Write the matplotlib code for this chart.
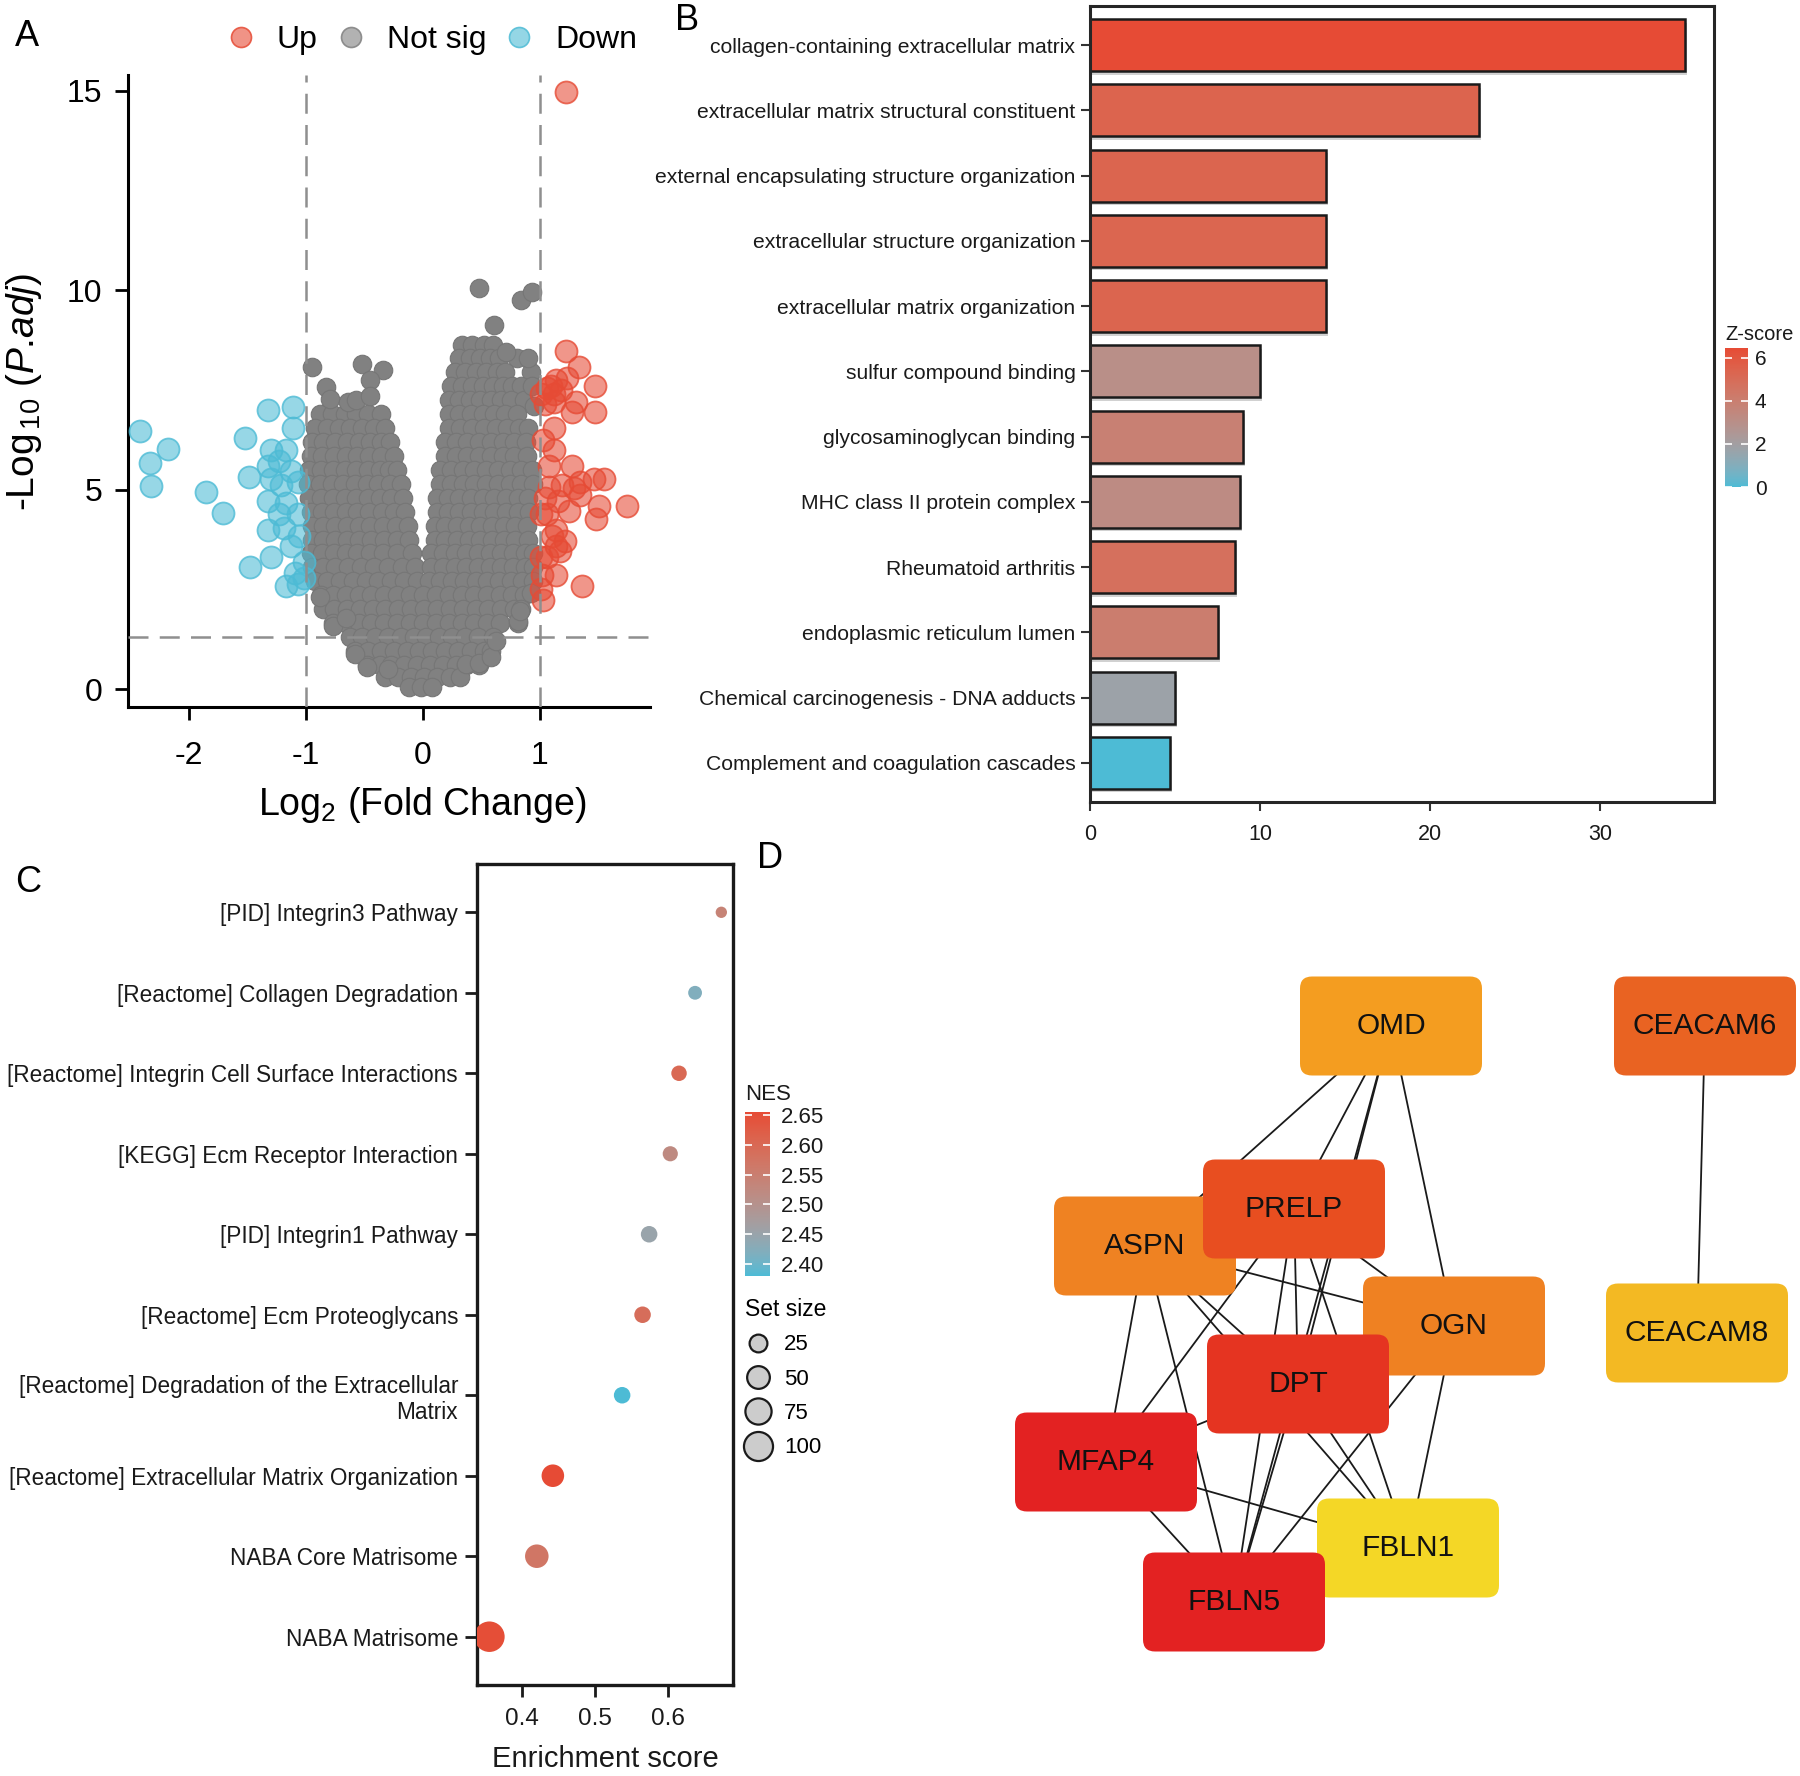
import numpy as np
import matplotlib
matplotlib.use("Agg")
import matplotlib.pyplot as plt
from matplotlib import font_manager as fm
from matplotlib.colors import LinearSegmentedColormap, Normalize, to_rgb, to_rgba
from matplotlib.cm import ScalarMappable
from matplotlib.patches import FancyBboxPatch
from matplotlib.lines import Line2D
import matplotlib.patheffects as pe

# ------------------------------------------------------------------ data
# Panel A : volcano (log2FC, -log10 padj)
up_x = [1.22, 1.22, 1.33, 1.47, 1.14, 1.06, 1.12, 1.23, 1.47, 1.27, 1.31, 1.12, 1.04, 1.01,
        1.12, 1.12, 1.08, 1.27, 1.46, 1.55, 1.34, 1.19, 1.08, 1.04, 1.15, 1.34, 1.50, 1.74,
        1.25, 1.48, 1.06, 1.01, 1.14, 1.21, 1.14, 1.17, 1.06, 1.01, 1.14, 1.02, 1.36, 1.01,
        1.03, 1.09, 1.18, 1.29, 1.10, 1.03]
up_y = [14.97, 8.48, 8.08, 7.61, 7.74, 7.54, 7.41, 7.81, 6.94, 6.94, 7.21, 7.21, 7.14, 7.41,
        6.54, 6.00, 5.60, 5.60, 5.26, 5.26, 5.19, 5.13, 5.06, 4.79, 4.72, 4.86, 4.59, 4.59,
        4.46, 4.26, 4.39, 4.39, 3.99, 3.72, 3.58, 3.45, 3.32, 3.32, 2.85, 2.85, 2.58, 2.51,
        2.24, 7.60, 7.50, 5.05, 3.85, 6.25]
down_x = [-2.42, -2.18, -2.33, -2.32, -1.85, -1.71, -1.32, -1.11, -1.11, -1.52, -1.30, -1.17,
          -1.23, -1.32, -1.13, -1.49, -1.30, -1.21, -1.07, -1.32, -1.17, -1.23, -1.07, -1.32,
          -1.19, -1.06, -1.13, -1.30, -1.48, -1.02, -1.09, -1.17, -1.07, -1.02]
down_y = [6.47, 6.03, 5.66, 5.09, 4.93, 4.42, 7.01, 7.07, 6.54, 6.30, 6.00, 6.00,
          5.73, 5.60, 5.46, 5.33, 5.26, 5.13, 5.19, 4.72, 4.66, 4.39, 4.39, 3.99,
          4.05, 3.85, 3.58, 3.32, 3.07, 3.18, 2.91, 2.58, 2.64, 2.78]
# not-significant genes, read row by row off the dense grey cloud
gray_rows = [
    (8.62, [0.33, 0.42, 0.52, 0.60]),
    (8.30, [0.31, 0.40, 0.49, 0.57, 0.65, 0.80]),
    (7.95, [0.27, 0.36, 0.45, 0.54, 0.63, 0.70, 0.92]),
    (7.60, [0.24, 0.33, 0.42, 0.51, 0.60, 0.68, 0.76, 0.84]),
    (7.25, [0.22, 0.31, 0.40, 0.49, 0.58, 0.67, 0.75, 0.86]),
    (6.90, [-0.88, -0.78, -0.67, -0.57, -0.47, -0.36, 0.22, 0.31, 0.41, 0.51, 0.61, 0.70, 0.80]),
    (6.55, [-0.92, -0.82, -0.72, -0.62, -0.52, -0.42, -0.32, 0.22, 0.32, 0.42, 0.52, 0.62,
            0.72, 0.82, 0.90]),
    (6.20, [-0.95, -0.85, -0.75, -0.65, -0.55, -0.45, -0.36, -0.28, 0.19, 0.28, 0.38, 0.48,
            0.58, 0.68, 0.78, 0.88]),
    (5.85, [-0.96, -0.86, -0.76, -0.66, -0.56, -0.46, -0.36, -0.25, 0.19, 0.28, 0.38, 0.48,
            0.58, 0.68, 0.78, 0.89]),
    (5.50, [-0.97, -0.87, -0.77, -0.67, -0.57, -0.47, -0.37, -0.29, -0.22, 0.15, 0.24, 0.34,
            0.44, 0.54, 0.64, 0.74, 0.84, 0.93]),
    (5.15, [-0.98, -0.88, -0.78, -0.68, -0.58, -0.48, -0.38, -0.28, -0.19, 0.15, 0.24, 0.34,
            0.44, 0.54, 0.64, 0.74, 0.84, 0.94]),
    (4.80, [-0.97, -0.87, -0.77, -0.67, -0.57, -0.47, -0.37, -0.27, -0.17, 0.12, 0.21, 0.31,
            0.41, 0.51, 0.61, 0.71, 0.81, 0.90]),
    (4.45, [-0.96, -0.86, -0.76, -0.66, -0.56, -0.46, -0.35, -0.25, -0.15, 0.12, 0.21, 0.31,
            0.41, 0.51, 0.61, 0.71, 0.81, 0.91]),
    (4.10, [-0.95, -0.85, -0.75, -0.65, -0.55, -0.45, -0.34, -0.23, -0.13, 0.10, 0.19, 0.29,
            0.39, 0.49, 0.59, 0.69, 0.79, 0.89]),
    (3.75, [-0.95, -0.85, -0.75, -0.65, -0.55, -0.44, -0.33, -0.22, -0.12, 0.10, 0.19, 0.29,
            0.39, 0.49, 0.59, 0.69, 0.79, 0.90]),
    (3.40, [-0.96, -0.86, -0.76, -0.66, -0.56, -0.45, -0.34, -0.22, -0.09, 0.07, 0.17, 0.27,
            0.37, 0.47, 0.57, 0.67, 0.77, 0.87, 0.94]),
    (3.05, [-0.95, -0.85, -0.75, -0.64, -0.53, -0.42, -0.30, -0.18, -0.07, 0.07, 0.17, 0.27,
            0.37, 0.47, 0.57, 0.67, 0.77, 0.87, 0.94]),
    (2.70, [-0.92, -0.82, -0.71, -0.60, -0.49, -0.38, -0.27, -0.16, -0.05, 0.05, 0.15, 0.25,
            0.35, 0.45, 0.55, 0.65, 0.75, 0.85, 0.94]),
    (2.35, [-0.87, -0.77, -0.66, -0.55, -0.44, -0.33, -0.22, -0.11, 0.00, 0.11, 0.22, 0.33,
            0.44, 0.55, 0.66, 0.76, 0.86]),
    (2.00, [-0.85, -0.76, -0.65, -0.54, -0.43, -0.32, -0.21, -0.10, 0.01, 0.12, 0.23, 0.34,
            0.45, 0.56, 0.67, 0.78, 0.84]),
    (1.65, [-0.77, -0.66, -0.55, -0.44, -0.33, -0.22, -0.11, 0.00, 0.11, 0.22, 0.33, 0.44,
            0.55, 0.66, 0.81]),
    (1.30, [-0.62, -0.52, -0.41, -0.30, -0.19, -0.08, 0.03, 0.14, 0.25, 0.36, 0.47, 0.60]),
    (0.95, [-0.58, -0.47, -0.36, -0.25, -0.14, -0.03, 0.08, 0.19, 0.30, 0.41, 0.52, 0.58]),
    (0.60, [-0.48, -0.37, -0.27, -0.16, -0.05, 0.06, 0.17, 0.28, 0.37, 0.48]),
    (0.30, [-0.32, -0.21, -0.10, 0.01, 0.12, 0.23, 0.32]),
    (0.05, [-0.12, -0.02, 0.08]),
]
gray_extra_x = [0.48, 0.84, 0.93, 0.61, -0.95, -0.52, -0.34, -0.45, -0.83, -0.79, -0.64, -0.57,
                -0.45, 0.90, 0.71, 0.93, 0.95, -0.77, -0.66, -0.58, -0.48, 0.37, 0.48, 0.58,
                0.81, 0.83, -0.88, 0.92, -0.30, 0.62]
gray_extra_y = [10.05, 9.76, 9.96, 9.13, 8.08, 8.15, 8.00, 7.75, 7.57, 7.27, 7.20, 7.25,
                7.34, 8.30, 8.45, 7.60, 7.10, 1.57, 1.77, 0.87, 0.56, 0.63, 0.65, 0.80,
                1.70, 1.97, 2.30, 2.40, 0.50, 1.20]
fc_cut = 1.0
padj_cut = 1.301  # -log10(0.05)
volcano_groups = ["Up", "Not sig", "Down"]

# Panel B : enrichment bars
b_terms = ["collagen-containing extracellular matrix",
           "extracellular matrix structural constituent",
           "external encapsulating structure organization",
           "extracellular structure organization",
           "extracellular matrix organization",
           "sulfur compound binding",
           "glycosaminoglycan binding",
           "MHC class II protein complex",
           "Rheumatoid arthritis",
           "endoplasmic reticulum lumen",
           "Chemical carcinogenesis - DNA adducts",
           "Complement and coagulation cascades"]
b_values = [35.0, 22.9, 13.9, 13.9, 13.9, 10.0, 9.0, 8.8, 8.5, 7.5, 5.0, 4.7]
b_zscore = [6.45, 5.4, 5.35, 5.3, 5.35, 3.0, 3.9, 3.25, 4.8, 4.1, 1.75, 0.0]
b_xticks = [0, 10, 20, 30]
b_cticks = [0, 2, 4, 6]

# Panel C : GSEA dot plot
c_terms = ["[PID] Integrin3 Pathway",
           "[Reactome] Collagen Degradation",
           "[Reactome] Integrin Cell Surface Interactions",
           "[KEGG] Ecm Receptor Interaction",
           "[PID] Integrin1 Pathway",
           "[Reactome] Ecm Proteoglycans",
           "[Reactome] Degradation of the Extracellular\nMatrix",
           "[Reactome] Extracellular Matrix Organization",
           "NABA Core Matrisome",
           "NABA Matrisome"]
c_es = [0.673, 0.637, 0.615, 0.603, 0.574, 0.565, 0.537, 0.442, 0.420, 0.355]
c_nes = [2.54, 2.42, 2.60, 2.52, 2.45, 2.59, 2.38, 2.655, 2.57, 2.65]
c_setsize = [12, 17, 22, 21, 26, 26, 26, 59, 66, 130]
c_xticks = [0.4, 0.5, 0.6]
c_cticks = [2.40, 2.45, 2.50, 2.55, 2.60, 2.65]
c_size_breaks = [25, 50, 75, 100]

# Panel D : PPI network (layout coordinates)
node_names = ["OMD", "CEACAM6", "ASPN", "PRELP", "OGN", "CEACAM8", "DPT", "MFAP4", "FBLN1", "FBLN5"]
node_x = [441, 755, 195, 344, 504, 747, 348, 156, 458, 284]
node_y = [126, 126, 346, 309, 426, 433, 484, 562, 648, 702]
node_colors = ["#F49D20", "#E96322", "#EF8222", "#E84E20", "#EF8122", "#F3B923",
               "#E53421", "#E32222", "#F4D726", "#E32222"]
edges = [("OMD", "ASPN"), ("OMD", "PRELP"), ("OMD", "DPT"), ("OMD", "OGN"), ("OMD", "FBLN5"),
         ("CEACAM6", "CEACAM8"), ("ASPN", "MFAP4"), ("ASPN", "FBLN5"), ("ASPN", "DPT"),
         ("ASPN", "FBLN1"), ("ASPN", "OGN"), ("ASPN", "PRELP"), ("PRELP", "MFAP4"),
         ("PRELP", "FBLN5"), ("PRELP", "DPT"), ("PRELP", "FBLN1"), ("PRELP", "OGN"),
         ("OGN", "FBLN1"), ("OGN", "FBLN5"), ("OGN", "DPT"), ("MFAP4", "DPT"),
         ("MFAP4", "FBLN1"), ("MFAP4", "FBLN5"), ("DPT", "FBLN1"), ("DPT", "FBLN5"),
         ("FBLN1", "FBLN5")]

# ------------------------------------------------------------------ style
W, H, DPI = 1800, 1776, 100
RED, BLUE, GREY = "#E64B35", "#4DBBD5", "#808080"

avail = {f.name for f in fm.fontManager.ttflist}
BASE = "Liberation Sans" if "Liberation Sans" in avail else "DejaVu Sans"
NARROW = "Liberation Sans Narrow" if "Liberation Sans Narrow" in avail else None

plt.rcParams["font.family"] = [BASE, "DejaVu Sans"]
plt.rcParams["mathtext.fontset"] = "custom"
plt.rcParams["mathtext.rm"] = BASE
plt.rcParams["mathtext.it"] = BASE + ":italic"
plt.rcParams["axes.unicode_minus"] = False

if NARROW:
    FAM_N = [NARROW, BASE]
    B_LAB, B_TICK, C_LAB, C_TICK, C_XLAB = 18, 17, 20, 20, 23
else:
    FAM_N = [BASE]
    B_LAB, B_TICK, C_LAB, C_TICK, C_XLAB = 15.2, 15.5, 16.3, 17.5, 21


def px2pt(p):
    return p * 72.0 / DPI


def rect(l, t, r, b):
    return [l / W, 1 - b / H, (r - l) / W, (b - t) / H]


def _to_lab(c):
    rgb = np.array(to_rgb(c))
    lin = np.where(rgb <= 0.04045, rgb / 12.92, ((rgb + 0.055) / 1.055) ** 2.4)
    M = np.array([[0.4124, 0.3576, 0.1805], [0.2126, 0.7152, 0.0722], [0.0193, 0.1192, 0.9505]])
    xyz = M @ lin / np.array([0.95047, 1.0, 1.08883])
    f = np.where(xyz > 0.008856, np.cbrt(xyz), 7.787 * xyz + 16 / 116)
    return np.array([116 * f[1] - 16, 500 * (f[0] - f[1]), 200 * (f[1] - f[2])])


def _from_lab(lab):
    L, a, b = lab
    fy = (L + 16) / 116
    f = np.array([fy + a / 500, fy, fy - b / 200])
    xyz = np.where(f ** 3 > 0.008856, f ** 3, (f - 16 / 116) / 7.787) * np.array([0.95047, 1.0, 1.08883])
    Mi = np.array([[3.2406, -1.5372, -0.4986], [-0.9689, 1.8758, 0.0415], [0.0557, -0.2040, 1.0570]])
    lin = np.clip(Mi @ xyz, 0, 1)
    rgb = np.where(lin <= 0.0031308, 12.92 * lin, 1.055 * lin ** (1 / 2.4) - 0.055)
    return np.clip(rgb, 0, 1)


def lab_cmap(lo, hi, n=256):
    a, b = _to_lab(lo), _to_lab(hi)
    return LinearSegmentedColormap.from_list("lab", [_from_lab(a + (b - a) * t) for t in np.linspace(0, 1, n)])


CMAP = lab_cmap(BLUE, RED)

fig = plt.figure(figsize=(W / DPI, H / DPI), dpi=DPI)

# ------------------------------------------------------------------ panel A
axA = fig.add_axes(rect(128, 75, 650, 707))
gx = [x for y, xs in gray_rows for x in xs] + gray_extra_x
gy = [y for y, xs in gray_rows for x in xs] + gray_extra_y
axA.scatter(gx, gy, s=px2pt(18.5) ** 2, facecolor="#818181", edgecolor="#767676", linewidth=0.8, zorder=2)
axA.scatter(down_x, down_y, s=px2pt(22) ** 2, facecolor=to_rgba(BLUE, 0.58),
            edgecolor=to_rgba(BLUE, 0.8), linewidth=1.3, zorder=3)
axA.scatter(up_x, up_y, s=px2pt(22) ** 2, facecolor=to_rgba(RED, 0.58),
            edgecolor=to_rgba(RED, 0.8), linewidth=1.3, zorder=3)
dash = dict(color="#8f8f8f", lw=1.8, dashes=(8, 4.5), zorder=4)
axA.axvline(-fc_cut, **dash)
axA.axvline(fc_cut, **dash)
axA.axhline(padj_cut, **dash)
axA.set_xlim(-2.52, 1.94)
axA.set_ylim(-0.45, 15.4)
axA.set_xticks([-2, -1, 0, 1])
axA.set_yticks([0, 5, 10, 15])
for s in ("top", "right"):
    axA.spines[s].set_visible(False)
for s in ("left", "bottom"):
    axA.spines[s].set_linewidth(2.2)
axA.tick_params(axis="both", labelsize=23, length=px2pt(13), width=2.0, colors="black")
axA.tick_params(axis="x", pad=15)
axA.tick_params(axis="y", pad=9)
axA.set_xlabel(r"Log$_2$ (Fold Change)", fontsize=27, va="center")
axA.xaxis.set_label_coords((422 - 128) / 522, (707 - 805) / 632)
axA.set_ylabel(r"-Log$_{\,10}$ ($\mathit{P}$.$\mathit{adj}$)", fontsize=28, va="center")
axA.yaxis.set_label_coords((24 - 128) / 522, (707 - 392) / 632)
leg_handles = [Line2D([], [], ls="", marker="o", ms=px2pt(20), mfc=to_rgba(c, 0.6),
                      mec=to_rgba(c, 0.85), mew=1.2) for c in (RED, GREY, BLUE)]
fig.legend(leg_handles, volcano_groups, loc="center left", bbox_to_anchor=(228 / W, 1 - 40 / H),
           ncol=3, frameon=False, fontsize=23, handlelength=0.8, handletextpad=0.73,
           columnspacing=0.63, borderpad=0, borderaxespad=0)

# ------------------------------------------------------------------ panel B
axB = fig.add_axes(rect(1090, 6, 1714, 802))
normB = Normalize(min(b_zscore), max(b_zscore))
ypos = np.arange(len(b_terms))
bars = axB.barh(ypos, b_values, height=0.8, color=CMAP(normB(np.array(b_zscore))),
                edgecolor="#1a1a1a", linewidth=1.8, zorder=2)
for p in bars:
    p.set_path_effects([pe.SimplePatchShadow(offset=(1.5, -2.5), shadow_rgbFace="#9a9a9a", alpha=0.45),
                        pe.Normal()])
axB.set_ylim(len(b_terms) - 0.4, -0.6)
axB.set_xlim(0, 36.7)
axB.set_yticks(ypos)
axB.set_yticklabels(b_terms)
axB.set_xticks(b_xticks)
for s in axB.spines.values():
    s.set_linewidth(2.2)
    s.set_color("#262626")
axB.tick_params(axis="y", length=px2pt(9), width=1.5, color="#333333", pad=4, labelcolor="#1a1a1a")
axB.tick_params(axis="x", length=px2pt(9), width=1.5, color="#333333", pad=9, labelcolor="#1a1a1a")
for t in axB.get_yticklabels():
    t.set_fontfamily(FAM_N)
    t.set_fontsize(B_LAB)
for t in axB.get_xticklabels():
    t.set_fontfamily(FAM_N)
    t.set_fontsize(B_TICK)

caxB = fig.add_axes(rect(1725, 348, 1748, 487))
cbB = fig.colorbar(ScalarMappable(norm=normB, cmap=CMAP), cax=caxB, ticks=b_cticks)
cbB.outline.set_visible(False)
caxB.tick_params(direction="in", length=5, width=1.2, color="white", left=True, right=True,
                 labelsize=15, pad=5, labelcolor="#1a1a1a")
caxB.set_title("Z-score", loc="left", fontsize=14.5, pad=6, color="#1a1a1a")

# ------------------------------------------------------------------ panel C
axC = fig.add_axes(rect(477, 864, 733, 1685))
normC = Normalize(min(c_nes), max(c_nes))
SIZE_LO, SIZE_HI, D_LO, D_SPAN = 10, 130, 8.5, 22


def size_px(v):
    return D_LO + D_SPAN * np.sqrt(max(v - SIZE_LO, 0) / (SIZE_HI - SIZE_LO))


yC = np.arange(len(c_terms))
axC.scatter(c_es, yC, s=[px2pt(size_px(v)) ** 2 for v in c_setsize], c=c_nes, cmap=CMAP,
            norm=normC, edgecolors="none", zorder=3)
axC.set_ylim(len(c_terms) - 0.4, -0.6)
axC.set_xlim(0.338, 0.689)
axC.set_yticks(yC)
axC.set_yticklabels(c_terms)
axC.set_xticks(c_xticks)
axC.set_xticklabels([f"{v:.1f}" for v in c_xticks])
for s in axC.spines.values():
    s.set_linewidth(2.4)
    s.set_color("#1a1a1a")
axC.tick_params(axis="y", length=px2pt(12), width=2.0, pad=5, colors="#1a1a1a")
axC.tick_params(axis="x", length=px2pt(12), width=2.0, pad=8, colors="#1a1a1a")
for t in axC.get_yticklabels():
    t.set_fontfamily(FAM_N)
    t.set_fontsize(C_LAB)
for t in axC.get_xticklabels():
    t.set_fontfamily(FAM_N)
    t.set_fontsize(C_TICK)
axC.set_xlabel("Enrichment score", fontsize=C_XLAB, family=FAM_N, va="center", color="#1a1a1a")
axC.xaxis.set_label_coords(0.5, (1685 - 1759) / 821)

caxC = fig.add_axes(rect(745, 1112, 770, 1276))
cbC = fig.colorbar(ScalarMappable(norm=normC, cmap=CMAP), cax=caxC, ticks=c_cticks)
cbC.outline.set_visible(False)
caxC.set_yticklabels([f"{v:.2f}" for v in c_cticks])
caxC.tick_params(direction="in", length=5, width=1.2, color="white", left=True, right=True,
                 labelsize=16, pad=8, labelcolor="#1a1a1a")
caxC.set_title("NES", loc="left", fontsize=16, pad=9, color="#1a1a1a")

size_handles = [Line2D([], [], ls="", marker="o", ms=px2pt(size_px(v) + 1.5), mfc="#CCCCCC",
                       mec="#1a1a1a", mew=1.6) for v in c_size_breaks]
axC.legend(size_handles, [str(v) for v in c_size_breaks], title="Set size", loc="upper left",
           bbox_to_anchor=(745 / W, 1 - 1298 / H), bbox_transform=fig.transFigure,
           frameon=False, fontsize=16, title_fontsize=16.5, handlelength=1.15,
           handletextpad=0.6, labelspacing=0.6, borderpad=0, borderaxespad=0,
           alignment="left")

# ------------------------------------------------------------------ panel D
axD = fig.add_axes(rect(950, 900, 1800, 1700))
axD.set_xlim(0, 850)
axD.set_ylim(800, 0)
axD.axis("off")
NODE_W, NODE_H = 182, 99
pos = {n: (x, y) for n, x, y in zip(node_names, node_x, node_y)}
for a, b in edges:
    axD.plot([pos[a][0], pos[b][0]], [pos[a][1], pos[b][1]], color="#1a1a1a", lw=1.3, zorder=1)
for i, (n, col) in enumerate(zip(node_names, node_colors)):
    x, y = pos[n]
    axD.add_patch(FancyBboxPatch((x - NODE_W / 2, y - NODE_H / 2), NODE_W, NODE_H,
                                 boxstyle="round,pad=0,rounding_size=12", fc=col, ec="none",
                                 zorder=2 + i))
    axD.text(x, y, n, ha="center", va="center", fontsize=21.5, color="#111111", zorder=2.5 + i)

# ------------------------------------------------------------------ panel letters
for lab, (x, y) in {"A": (27, 36), "B": (687, 21), "C": (28, 882), "D": (770, 858)}.items():
    fig.text(x / W, 1 - y / H, lab, fontsize=26, ha="center", va="center")

fig.savefig("out.png", dpi=DPI)
